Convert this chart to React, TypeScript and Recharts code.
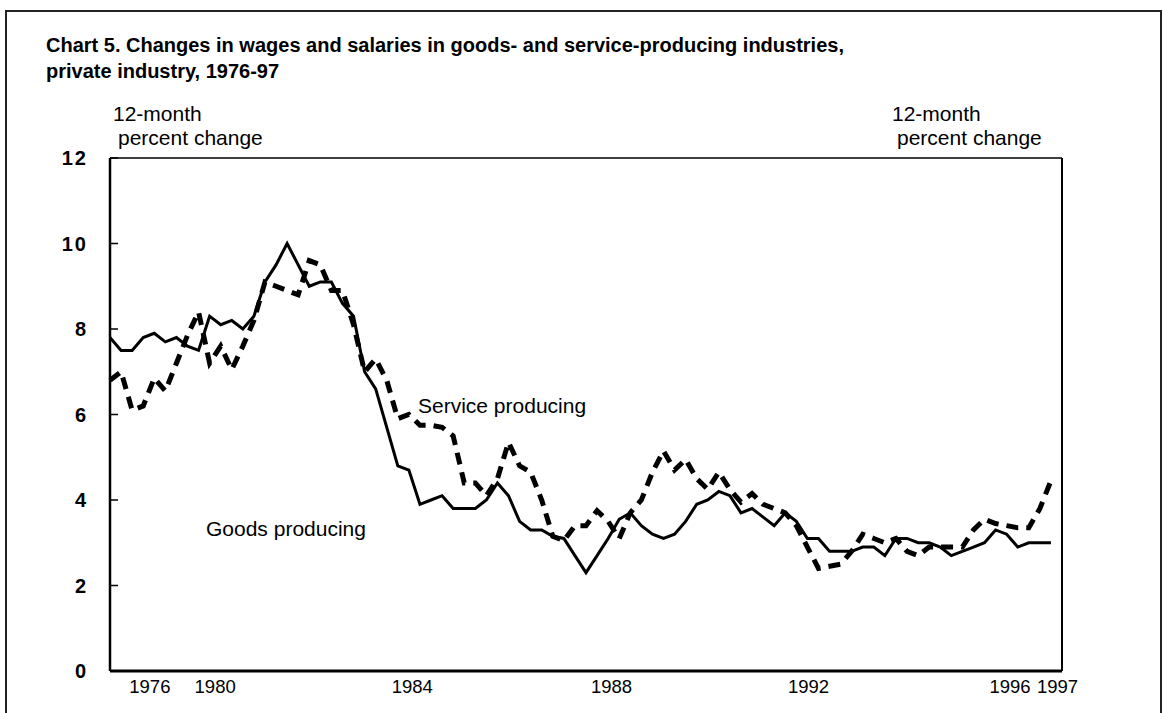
import { LineChart, Line, XAxis, YAxis, ReferenceLine } from "recharts";

// 12-month percent change, quarterly, private industry
const goods = [
  7.8, 7.5, 7.5, 7.8, 7.9, 7.7, 7.8, 7.6, 7.5, 8.3,
  8.1, 8.2, 8.0, 8.3, 9.1, 9.5, 10.0, 9.5, 9.0, 9.1,
  9.1, 8.6, 8.3, 7.0, 6.6, 5.7, 4.8, 4.7, 3.9, 4.0,
  4.1, 3.8, 3.8, 3.8, 4.0, 4.4, 4.1, 3.5, 3.3, 3.3,
  3.15, 3.1, 2.7, 2.3, 2.7, 3.1, 3.55, 3.7, 3.4, 3.2,
  3.1, 3.2, 3.5, 3.9, 4.0, 4.2, 4.1, 3.7, 3.8, 3.6,
  3.4, 3.7, 3.5, 3.1, 3.1, 2.8, 2.8, 2.8, 2.9, 2.9,
  2.7, 3.1, 3.1, 3.0, 3.0, 2.9, 2.7, 2.8, 2.9, 3.0,
  3.3, 3.2, 2.9, 3.0, 3.0, 3.0,
];
const service = [
  6.8, 7.0, 6.1, 6.2, 6.85, 6.55, 7.2, 7.85, 8.4, 7.2,
  7.6, 7.05, 7.6, 8.2, 9.1, 9.0, 8.9, 8.8, 9.6, 9.5,
  8.9, 8.9, 8.1, 7.0, 7.3, 6.8, 5.9, 6.0, 5.75, 5.75,
  5.7, 5.5, 4.4, 4.4, 4.1, 4.5, 5.35, 4.8, 4.65, 4.0,
  3.15, 3.05, 3.4, 3.4, 3.75, 3.5, 3.1, 3.7, 4.0, 4.65,
  5.15, 4.7, 4.95, 4.5, 4.25, 4.65, 4.25, 3.95, 4.15, 3.9,
  3.8, 3.7, 3.4, 2.9, 2.4, 2.45, 2.5, 2.8, 3.2, 3.1,
  3.0, 3.1, 2.8, 2.7, 2.9, 2.9, 2.9, 2.9, 3.3, 3.55,
  3.45, 3.4, 3.35, 3.35, 3.8, 4.45,
];
// where the original puts its year labels, in quarter-index units
const xTickAt = [3.6, 9.5, 27.3, 45.3, 63.1, 81.3, 85.6];
const xTickLabels = ["1976", "1980", "1984", "1988", "1992", "1996", "1997"];
const yTicks = [0, 2, 4, 6, 8, 10, 12];

const chartData = goods.map((g, i) => ({ q: i, goods: g, service: service[i] }));

const FONT = '"Liberation Sans", Arial, sans-serif';
const txt = (left: number, top: number, size: number, bold = false): React.CSSProperties => ({
  position: "absolute", left, top, fontSize: size, lineHeight: `${Math.round(size * 1.2)}px`,
  fontWeight: bold ? 700 : 400, color: "#000", whiteSpace: "nowrap",
});

export default function App() {
  const yTick = { fontSize: 20, fontWeight: 700, fill: "#000", fontFamily: FONT, letterSpacing: 2 };
  return (
    <div style={{ position: "absolute", left: 0, top: 0, width: 1164, height: 713, overflow: "hidden", background: "#fff", fontFamily: FONT }}>
      <div style={{ position: "absolute", left: 5, top: 10, width: 1153, height: 760, border: "2px solid #222" }} />

      <div style={txt(46, 33, 20, true)}>Chart 5. Changes in wages and salaries in goods- and service-producing industries,</div>
      <div style={txt(46, 59, 20, true)}>private industry, 1976-97</div>

      <div style={txt(113, 101, 21)}>12-month</div>
      <div style={txt(118, 125, 21)}>percent change</div>
      <div style={txt(892, 101, 21)}>12-month</div>
      <div style={txt(897, 125, 21)}>percent change</div>

      <div style={{ position: "absolute", left: 0, top: 0 }}>
        <LineChart width={1164} height={713} data={chartData} margin={{ top: 158, right: 42, bottom: 12, left: 50 }}>
          <XAxis
            dataKey="q" type="number" domain={[0, 86]} ticks={xTickAt} interval={0}
            tickFormatter={(v: number) => xTickLabels[xTickAt.indexOf(v)]}
            tickLine={false} tickSize={0} tickMargin={9} height={30}
            axisLine={{ stroke: "#000", strokeWidth: 3 }}
            tick={{ fontSize: 18.5, fill: "#000", fontFamily: FONT }}
          />
          <YAxis
            yAxisId="l" orientation="left" domain={[0, 12]} ticks={yTicks} interval={0} width={60}
            tickSize={-8} tickMargin={30}
            tickLine={{ stroke: "#000", strokeWidth: 1.5 }}
            axisLine={{ stroke: "#000", strokeWidth: 2.5 }}
            tick={yTick}
          />
          <YAxis
            yAxisId="r" orientation="right" domain={[0, 12]} ticks={yTicks} interval={0} width={60}
            tickSize={-8} tickMargin={29}
            tickLine={{ stroke: "#000", strokeWidth: 1.5 }}
            axisLine={{ stroke: "#000", strokeWidth: 2 }}
            tick={yTick}
          />
          <ReferenceLine yAxisId="l" y={12} stroke="#000" strokeWidth={1.5} />
          <Line yAxisId="l" dataKey="goods" stroke="#000" strokeWidth={3} dot={false} activeDot={false} isAnimationActive={false} />
          <Line yAxisId="l" dataKey="service" stroke="#000" strokeWidth={5} strokeDasharray="12 8" strokeLinecap="butt" dot={false} activeDot={false} isAnimationActive={false} />
        </LineChart>
      </div>

      <div style={txt(418, 393, 21)}>Service producing</div>
      <div style={txt(206, 516, 21)}>Goods producing</div>
    </div>
  );
}
